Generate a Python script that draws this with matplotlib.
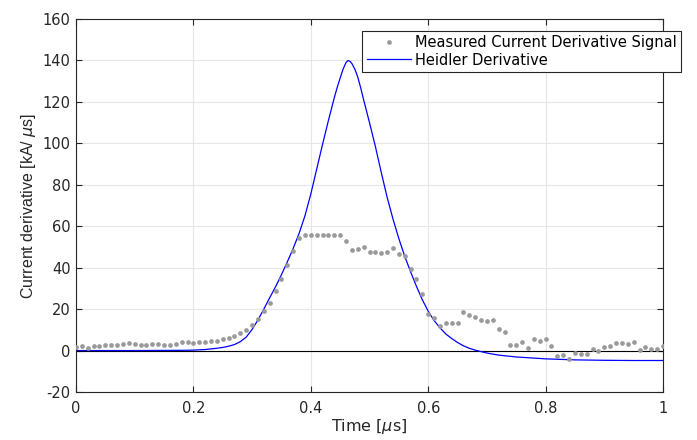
import numpy as np
import matplotlib
matplotlib.use('Agg')
import matplotlib.pyplot as plt

plt.rcParams['font.family'] = ['DejaVu Sans']
plt.rcParams['mathtext.fontset'] = 'dejavusans'
plt.rcParams['axes.unicode_minus'] = False

# measured signal, one sample every 0.01 us
meas_t = np.round(np.arange(0, 101) * 0.01, 2)
meas_v = [1.9, 2.0, 1.4, 2.0, 2.4, 2.9, 2.9, 2.9, 3.2, 3.7,
          3.2, 2.9, 2.9, 3.2, 3.2, 2.9, 2.9, 3.4, 4.0, 4.0,
          3.7, 4.0, 4.3, 4.6, 4.6, 5.4, 5.9, 7.2, 8.5, 10.0,
          12.5, 15.2, 19.3, 22.8, 28.6, 34.7, 41.5, 48.2, 54.5, 55.6,
          55.6, 55.6, 55.6, 55.6, 55.6, 55.6, 53.0, 48.5, 49.0, 49.8,
          47.4, 47.7, 47.1, 47.4, 49.4, 46.8, 45.5, 39.4, 34.4, 27.5,
          17.5, 15.9, 11.7, 13.3, 13.3, 13.3, 18.8, 17.2, 16.4, 14.9,
          14.3, 14.9, 10.2, 9.0, 2.9, 2.9, 4.2, 1.4, 5.6, 4.8,
          5.6, 2.1, -2.6, -2.1, -3.9, -1.3, -1.6, -1.6, 0.9, -0.2,
          1.7, 2.2, 3.7, 3.7, 3.3, 4.2, 0.5, 1.7, 0.6, 0.6,
          2.2]

# Heidler derivative
heid_t = [0.0, 0.10, 0.18, 0.20, 0.22, 0.24, 0.25, 0.26, 0.27, 0.28,
          0.29, 0.30, 0.31, 0.32, 0.33, 0.34, 0.35, 0.36, 0.37, 0.38,
          0.39, 0.40, 0.41, 0.42, 0.43, 0.44, 0.445, 0.45, 0.455, 0.46,
          0.4635, 0.467, 0.47, 0.475, 0.48, 0.485, 0.49, 0.495, 0.50, 0.51,
          0.52, 0.53, 0.54, 0.55, 0.56, 0.57, 0.58, 0.59, 0.60, 0.61,
          0.62, 0.63, 0.64, 0.65, 0.66, 0.67, 0.68, 0.69, 0.70, 0.72,
          0.75, 0.80, 0.85, 0.90, 0.95, 1.0]
heid_v = [0.0, 0.0, 0.1, 0.2, 0.5, 1.1, 1.5, 2.1, 2.9, 4.3,
          6.5, 10.2, 14.8, 20.0, 25.5, 30.8, 36.6, 42.8, 49.3, 56.5,
          65.0, 75.5, 87.5, 99.5, 111.0, 122.0, 127.0, 131.5, 135.8, 139.0,
          140.0, 139.5, 138.5, 135.8, 132.0, 126.8, 121.0, 115.5, 110.0, 98.5,
          86.0, 74.0, 63.5, 54.0, 45.5, 38.0, 31.0, 24.5, 19.0, 14.5,
          11.0, 8.0, 5.8, 3.9, 2.3, 1.1, 0.2, -0.5, -1.2, -2.2,
          -3.1, -4.0, -4.5, -4.7, -4.8, -4.8]

xticks = [0, 0.2, 0.4, 0.6, 0.8, 1]
xticklabels = ['0', '0.2', '0.4', '0.6', '0.8', '1']
yticks = list(range(-20, 161, 20))

dark = '#262626'

fig = plt.figure(figsize=(6.97, 4.40), dpi=100)
ax = fig.add_axes([76 / 697, 48 / 440, 587 / 697, 373 / 440])

ax.axhline(0, color='black', lw=0.8, zorder=1)
ax.plot(meas_t, meas_v, 'o', color='#9a9a9a', ms=3.4, mec='none',
        label='Measured Current Derivative Signal', zorder=3)
ax.plot(heid_t, heid_v, '-', color='blue', lw=0.9,
        label='Heidler Derivative', zorder=2)

ax.set_xlim(0, 1)
ax.set_ylim(-20, 160)
ax.set_xticks(xticks)
ax.set_xticklabels(xticklabels)
ax.set_yticks(yticks)
ax.grid(True, color='#e6e6e6', lw=0.8)
ax.set_axisbelow(True)
ax.tick_params(direction='in', top=True, right=True, length=4,
               labelsize=10.5, colors=dark, width=0.8)
ax.tick_params(axis='x', pad=6.5)
ax.tick_params(axis='y', pad=4)
for s in ax.spines.values():
    s.set_color(dark)
    s.set_linewidth(0.8)

ax.set_xlabel(r'Time [$\mu$s]', fontsize=11.5, color=dark, labelpad=1)
ax.set_ylabel(r'Current derivative [kA/ $\mu$s]', fontsize=11.5, color=dark,
              labelpad=3, family='Liberation Sans')

leg = ax.legend(loc='upper right', bbox_to_anchor=(681 / 697, 1 - 31 / 440),
                bbox_transform=fig.transFigure, fontsize=10.5, frameon=True,
                fancybox=False, borderpad=0.3, labelspacing=0.15,
                handlelength=3.0, handletextpad=0.3, borderaxespad=0)
leg.get_frame().set_edgecolor(dark)
leg.get_frame().set_linewidth(0.8)
leg.get_frame().set_alpha(1)

fig.savefig('out.png', dpi=100)
